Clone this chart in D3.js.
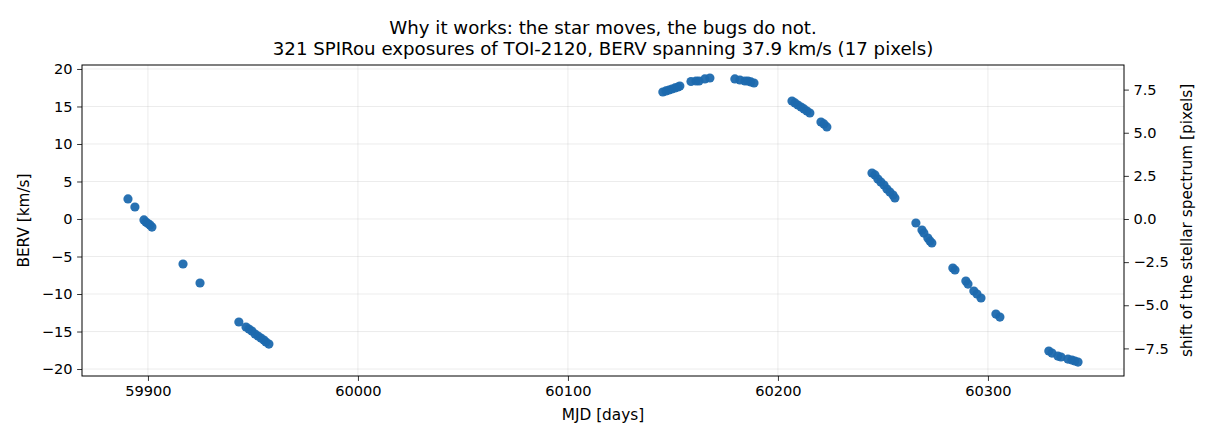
<!DOCTYPE html>
<html>
<head>
<meta charset="utf-8">
<script src="https://cdn.jsdelivr.net/npm/d3@7"></script>
<style>
  html, body { margin: 0; padding: 0; background: #fff; }
  svg { display: block; font-family: "DejaVu Sans", sans-serif; }
</style>
</head>
<body>
<svg id="chart" width="1210" height="440"></svg>
<script>
// ---- data ----
const titleLines = [
  "Why it works: the star moves, the bugs do not.",
  "321 SPIRou exposures of TOI-2120, BERV spanning 37.9 km/s (17 pixels)"
];
const mjd = [
  59890.5, 59893.8, 59898.1, 59899.0, 59900.0, 59901.0, 59901.9,
  59916.7, 59924.8,
  59943.3, 59946.7, 59948.1, 59949.5, 59951.0, 59952.4, 59953.8, 59955.2, 59956.2, 59957.6,
  60145.2, 60146.7, 60148.1, 60149.5, 60151.0, 60152.4, 60153.3,
  60158.6, 60161.0, 60162.4, 60165.2, 60167.6,
  60179.5, 60181.9, 60184.3, 60185.7, 60187.1, 60188.6,
  60206.7, 60208.1, 60209.5, 60211.0, 60212.4, 60213.8, 60215.2,
  60220.5, 60221.9, 60223.3,
  60244.8, 60246.2, 60247.6, 60249.0, 60250.5, 60251.9, 60253.3, 60254.8, 60255.7,
  60265.7, 60268.6, 60269.5, 60271.4, 60272.4, 60273.3,
  60283.3, 60284.3, 60289.5, 60290.5, 60293.3, 60294.8, 60296.7,
  60303.8, 60305.7,
  60329.0, 60330.5, 60333.3, 60334.8, 60338.1, 60340.0, 60341.4, 60342.9
];
const berv = [
  2.67, 1.60, -0.13, -0.40, -0.60, -0.80, -1.07,
  -6.00, -8.53,
  -13.73, -14.40, -14.67, -14.93, -15.33, -15.60, -15.87, -16.13, -16.40, -16.67,
  16.93, 17.07, 17.20, 17.33, 17.47, 17.60, 17.73,
  18.33, 18.40, 18.40, 18.67, 18.80,
  18.67, 18.53, 18.40, 18.40, 18.27, 18.13,
  15.73, 15.47, 15.20, 14.93, 14.67, 14.40, 14.13,
  12.93, 12.67, 12.27,
  6.13, 5.87, 5.33, 4.93, 4.53, 4.00, 3.60, 3.20, 2.80,
  -0.53, -1.47, -1.87, -2.53, -2.93, -3.20,
  -6.53, -6.80, -8.27, -8.67, -9.60, -10.00, -10.53,
  -12.67, -13.07,
  -17.60, -17.87, -18.27, -18.40, -18.67, -18.80, -18.93, -19.07
];
const xTicks = [59900, 60000, 60100, 60200, 60300];
const yTicks = [-20, -15, -10, -5, 0, 5, 10, 15, 20];
const pixTicks = [-7.5, -5.0, -2.5, 0.0, 2.5, 5.0, 7.5];
const kmsPerPixel = 2.3;

// ---- layout ----
const L = 82, R = 1124, T = 65, B = 376;
const svg = d3.select("#chart");
const fmtMinus = s => String(s).replace("-", "\u2212");

const x = d3.scaleLinear().domain([59868.6, 60364.8]).range([L, R]);
const y = d3.scaleLinear().domain([-20.93, 20.53]).range([B, T]);
const y2 = d3.scaleLinear().domain([-20.93 / kmsPerPixel, 20.53 / kmsPerPixel]).range([B, T]);

// grid
const grid = svg.append("g");
grid.selectAll("line.gx").data(xTicks).join("line")
  .attr("x1", d => x(d)).attr("x2", d => x(d)).attr("y1", T).attr("y2", B)
  .attr("stroke", "#b0b0b0").attr("stroke-opacity", 0.3).attr("stroke-width", 0.8);
grid.selectAll("line.gy").data(yTicks).join("line")
  .attr("x1", L).attr("x2", R).attr("y1", d => y(d)).attr("y2", d => y(d))
  .attr("stroke", "#b0b0b0").attr("stroke-opacity", 0.3).attr("stroke-width", 0.8);

// points
svg.append("g").selectAll("circle").data(mjd.map((m, i) => [m, berv[i]])).join("circle")
  .attr("cx", d => x(d[0])).attr("cy", d => y(d[1])).attr("r", 4.6)
  .attr("fill", "#1c69ae").attr("fill-opacity", 0.95);

// axes
const fs = "14.6px";
const xAxis = d3.axisBottom(x).tickValues(xTicks).tickFormat(d3.format("d")).tickSize(4.9).tickPadding(4.5);
const yAxis = d3.axisLeft(y).tickValues(yTicks).tickFormat(d => fmtMinus(d)).tickSize(4.9).tickPadding(4.5);
const y2Axis = d3.axisRight(y2).tickValues(pixTicks).tickFormat(d => fmtMinus(d3.format(".1f")(d))).tickSize(4.9).tickPadding(4.5);

function style(g) {
  g.select(".domain").remove();
  g.selectAll(".tick line").attr("stroke", "#000").attr("stroke-width", 0.8);
  g.selectAll(".tick text").attr("fill", "#000").style("font-size", fs).style("font-family", "DejaVu Sans");
}
svg.append("g").attr("transform", `translate(0,${B})`).call(xAxis).call(style);
svg.append("g").attr("transform", `translate(${L},0)`).call(yAxis).call(style);
svg.append("g").attr("transform", `translate(${R},0)`).call(y2Axis).call(style);

// frame
svg.append("rect").attr("x", L).attr("y", T).attr("width", R - L).attr("height", B - T)
  .attr("fill", "none").attr("stroke", "#000").attr("stroke-width", 1);

// labels
const lfs = "15.3px";
svg.append("text").attr("x", (L + R) / 2).attr("y", 420).attr("text-anchor", "middle")
  .style("font-size", lfs).text("MJD [days]");
svg.append("text").attr("transform", `translate(29,${(T + B) / 2}) rotate(-90)`).attr("text-anchor", "middle")
  .style("font-size", lfs).text("BERV [km/s]");
svg.append("text").attr("transform", `translate(1192,${(T + B) / 2}) rotate(-90)`).attr("text-anchor", "middle")
  .style("font-size", lfs).text("shift of the stellar spectrum [pixels]");

// title
svg.append("g").selectAll("text").data(titleLines).join("text")
  .attr("x", (L + R) / 2).attr("y", (d, i) => 34 + i * 21).attr("text-anchor", "middle")
  .style("font-size", "18.2px").text(d => d);
</script>
</body>
</html>
